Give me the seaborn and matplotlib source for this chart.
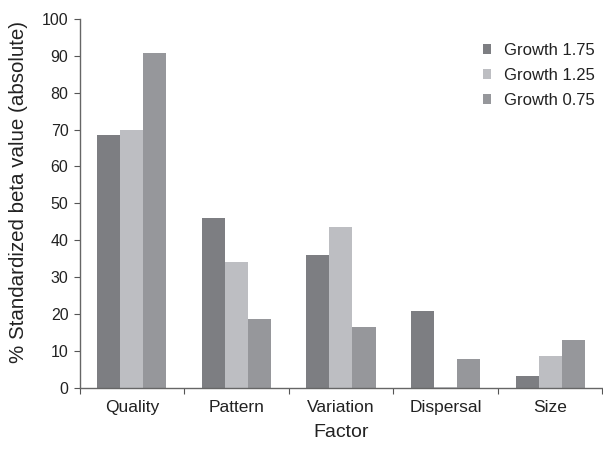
import matplotlib
matplotlib.use("Agg")
import matplotlib.pyplot as plt
import seaborn as sns
import pandas as pd
import numpy as np

factors = ["Quality", "Pattern", "Variation", "Dispersal", "Size"]
series = ["Growth 1.75", "Growth 1.25", "Growth 0.75"]
growth_175 = [68.6, 46.0, 35.9, 20.9, 3.1]
growth_125 = [69.9, 34.1, 43.5, 0.3, 8.7]
growth_075 = [90.7, 18.6, 16.4, 7.9, 13.0]
colors = ["#7d7e82", "#bdbec2", "#96979b"]

rows = []
for s, vals in zip(series, [growth_175, growth_125, growth_075]):
    for f, v in zip(factors, vals):
        rows.append({"Factor": f, "Series": s, "Value": v})
df = pd.DataFrame(rows)

sns.set_theme(style="white")
plt.rcParams['font.family'] = ['Liberation Sans', 'DejaVu Sans']

fig = plt.figure(figsize=(6.03, 4.49), dpi=100)
ax = fig.add_axes([0.132, 0.136, 0.867, 0.822])
sns.barplot(data=df, x="Factor", y="Value", hue="Series", order=factors,
            hue_order=series, palette=colors, width=0.66, saturation=1,
            linewidth=0, ax=ax, errorbar=None)

ax.set_xlim(-0.5, 4.5)
ax.set_ylim(0, 100)
ax.set_yticks(np.arange(0, 101, 10))
ax.tick_params(axis='y', direction='out', length=4, width=0.8, color='#555555',
               labelsize=11.5, left=True, pad=4, labelcolor='#222222')
ax.set_xticks(range(len(factors)))
ax.set_xticklabels(factors)
ax.tick_params(axis='x', which='major', length=0, labelsize=12.5, pad=9,
               labelcolor='#222222')
ax.set_xticks(np.arange(-0.5, 4.6, 1.0), minor=True)
ax.tick_params(axis='x', which='minor', direction='out', length=4, width=0.8,
               color='#555555', bottom=True)
for sp in ["top", "right"]:
    ax.spines[sp].set_visible(False)
for sp in ["left", "bottom"]:
    ax.spines[sp].set_color('#666666')
    ax.spines[sp].set_linewidth(1.0)

ax.set_xlabel("Factor", fontsize=14, labelpad=6, color='#222222')
ax.set_ylabel("% Standardized beta value (absolute)", fontsize=14.8, color='#222222')
ax.yaxis.set_label_coords(-0.098, 0.53)

leg = ax.legend(loc='upper right', bbox_to_anchor=(1.015, 0.975), frameon=False,
                fontsize=12, handlelength=0.5, handleheight=0.5,
                handletextpad=0.8, labelspacing=0.6)
for t in leg.get_texts():
    t.set_color('#222222')

fig.savefig("out.png", dpi=100)
